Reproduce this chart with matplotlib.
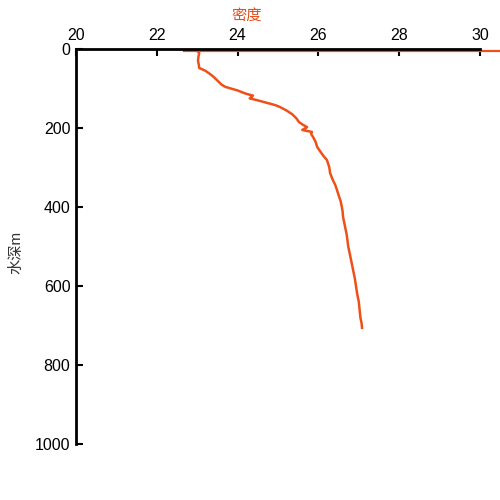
import matplotlib.pyplot as plt

plt.rcParams['font.family'] = ['Liberation Sans', 'Noto Sans CJK SC', 'DejaVu Sans']

# density profile
depth = [0, 5, 10, 20, 30, 40, 48, 55, 62, 70, 78, 85, 90, 96, 105, 113, 118, 121, 125,
         130, 137, 142, 147, 155, 165, 175, 185, 192, 198, 205, 210, 215, 225, 235,
         248, 260, 270, 281, 290, 300, 314, 330, 345, 357, 370, 385, 400, 412, 425,
         440, 455, 470, 485, 501, 520, 540, 560, 580, 600, 620, 640, 660, 680, 695, 706]
density = [23.02, 23.00, 23.05, 23.03, 23.02, 23.04, 23.05, 23.20, 23.30, 23.40,
           23.48, 23.55, 23.60, 23.70, 24.00, 24.20, 24.38, 24.35, 24.30, 24.50, 24.75,
           24.93, 25.05, 25.20, 25.35, 25.45, 25.52, 25.62, 25.72, 25.60, 25.84,
           25.82, 25.88, 25.93, 25.97, 26.05, 26.12, 26.21, 26.24, 26.27, 26.29,
           26.35, 26.42, 26.46, 26.50, 26.55, 26.58, 26.60, 26.61, 26.64, 26.67,
           26.70, 26.72, 26.74, 26.78, 26.82, 26.86, 26.90, 26.93, 26.96, 27.00,
           27.02, 27.04, 27.07, 27.08]

# surface line along the top
surface_x = [22.67, 30.5]
surface_depth = [5, 5]

x_ticks = [20, 22, 24, 26, 28, 30]
y_ticks = [0, 200, 400, 600, 800, 1000]

color = '#EE5018'

fig = plt.figure(figsize=(5, 5), dpi=100)
ax = fig.add_axes([0.152, 0.112, 0.808, 0.79])

ax.plot(density, depth, color=color, linewidth=1.8)
ax.plot(surface_x, surface_depth, color=color, linewidth=1.6, clip_on=False, zorder=2)

ax.set_xlim(20, 30)
ax.set_ylim(1000, 0)
ax.xaxis.tick_top()
ax.set_xticks(x_ticks)
ax.set_yticks(y_ticks)
ax.tick_params(axis='both', direction='in', length=5, width=1.5, labelsize=11.5, pad=4)

for side in ['right', 'bottom']:
    ax.spines[side].set_visible(False)
for side in ['top', 'left']:
    ax.spines[side].set_linewidth(2)
    ax.spines[side].set_zorder(3)

ax.set_ylabel('水深m', fontsize=11, color='#333333')
ax.yaxis.set_label_coords(-0.131, 0.485)
ax.xaxis.set_label_position('top')
ax.set_xlabel('密度', fontsize=11, color='#E0501C')
ax.xaxis.set_label_coords(0.423, 1.073)

fig.savefig('out.png', dpi=100)
